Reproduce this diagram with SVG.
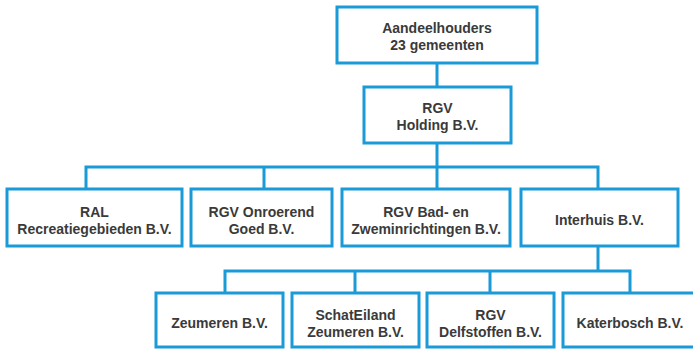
<svg xmlns="http://www.w3.org/2000/svg" width="693" height="349" viewBox="0 0 693 349">
<style>
.box{fill:#fff;stroke:#1b9ad8;stroke-width:3}
.con{fill:none;stroke:#1b9ad8;stroke-width:3}
text{font-family:"Liberation Sans",Arial,sans-serif;font-weight:bold;font-size:14px;fill:#3a3a3a;text-anchor:middle}
</style>
<rect width="693" height="349" fill="#fff"/>
<g id="connectors">
<path class="con" d="M437 63V87M437 143V167M86 189V167H598V189M264 167V189M437 167V189M598 246V271M225 293V271H630V293M355 271V293M490 271V293"/>
</g>
<g id="aandeelhouders"><rect class="box" x="337" y="7" width="200" height="56"/><text x="437" y="33">Aandeelhouders</text><text x="437" y="50">23 gemeenten</text></g>
<g id="holding"><rect class="box" x="364" y="87" width="147" height="56"/><text x="437.5" y="113">RGV</text><text x="437.5" y="130">Holding B.V.</text></g>
<g id="ral"><rect class="box" x="7" y="189" width="175" height="57"/><text x="94.5" y="217">RAL</text><text x="94.5" y="234">Recreatiegebieden B.V.</text></g>
<g id="onroerend"><rect class="box" x="191" y="189" width="141" height="57"/><text x="261.5" y="217">RGV Onroerend</text><text x="261.5" y="234">Goed B.V.</text></g>
<g id="bad"><rect class="box" x="342" y="189" width="168" height="57"/><text x="426" y="217">RGV Bad- en</text><text x="426" y="234">Zweminrichtingen B.V.</text></g>
<g id="interhuis"><rect class="box" x="521" y="189" width="157" height="57"/><text x="599.5" y="225">Interhuis B.V.</text></g>
<g id="zeumeren"><rect class="box" x="156" y="293" width="127" height="54"/><text x="219.5" y="328">Zeumeren B.V.</text></g>
<g id="schateiland"><rect class="box" x="292" y="293" width="127" height="54"/><text x="355.5" y="320">SchatEiland</text><text x="355.5" y="337">Zeumeren B.V.</text></g>
<g id="delfstoffen"><rect class="box" x="427" y="293" width="127" height="54"/><text x="490.5" y="320">RGV</text><text x="490.5" y="337">Delfstoffen B.V.</text></g>
<g id="katerbosch"><rect class="box" x="563" y="293" width="134" height="54"/><text x="630" y="328">Katerbosch B.V.</text></g>
</svg>
